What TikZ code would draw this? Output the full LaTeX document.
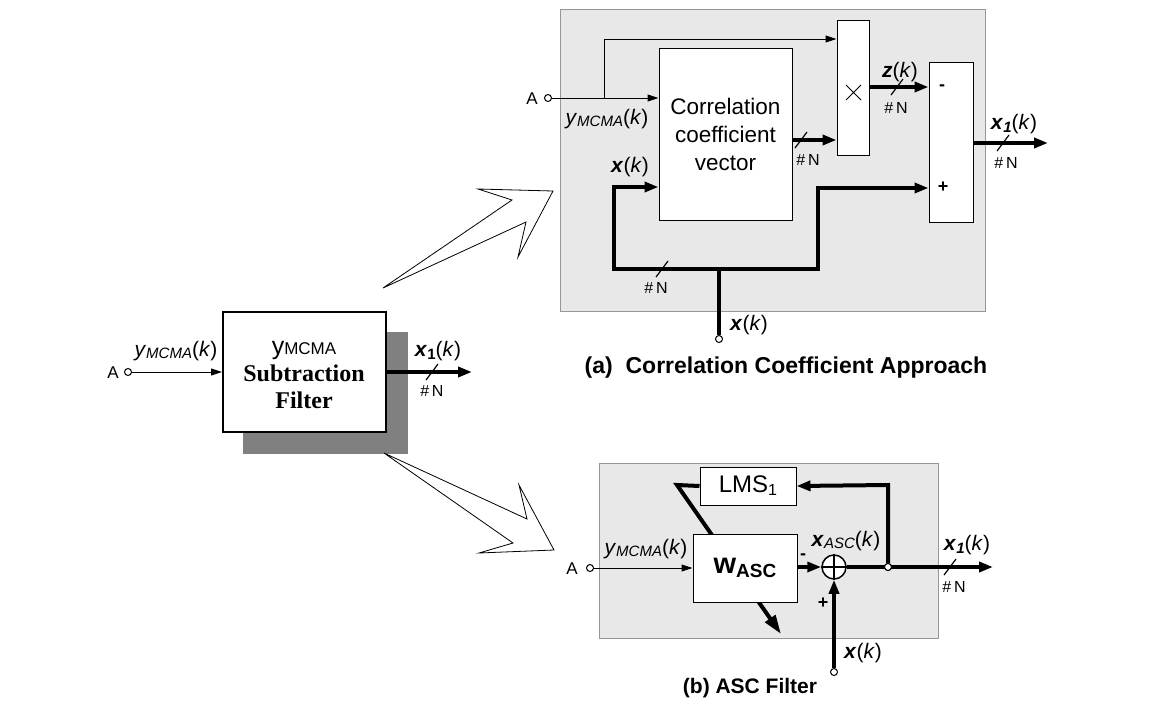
\documentclass[tikz,border=0pt]{standalone}
\usepackage{fontspec}
\setmainfont{Liberation Sans}
\newfontfamily\serifbf{Liberation Serif}
\usetikzlibrary{arrows.meta}
\definecolor{panelfill}{RGB}{232,232,232}
\definecolor{paneldraw}{RGB}{150,150,150}
\definecolor{shadowc}{RGB}{128,128,128}
\newcommand\ymc{\textit{y}\raisebox{-2pt}{\fontsize{15}{15}\selectfont\textit{MCMA}}(\textit{k})}
\newcommand\xk{\textbf{\textit{x}}(\textit{k})}
\newcommand\xone{\textbf{\textit{x}}\raisebox{-3pt}{\fontsize{15}{15}\selectfont\textbf{\textit{1}}}(\textit{k})}
\newcommand\xoneup{\textbf{\textit{x}}\raisebox{-3pt}{\fontsize{15}{15}\selectfont\textbf{1}}(\textit{k})}
\tikzset{
  thinarr/.style={line width=1pt,-{Triangle[length=11pt,width=7pt]}},
  thk/.style={line width=4pt},
  thkarr/.style={line width=4pt,-{Triangle[length=14pt,width=10pt]}},
  blk/.style={draw, line width=1pt, fill=white, inner sep=0pt},
  panel/.style={draw=paneldraw, line width=1pt, fill=panelfill, inner sep=0pt},
  port/.style={circle, draw, line width=1pt, fill=white, inner sep=0pt, minimum size=7pt},
  lab/.style={font=\fontsize{21}{25}\selectfont, inner sep=0pt},
  nlab/.style={font=\fontsize{16}{18}\selectfont, inner sep=0pt},
  alab/.style={font=\fontsize{17}{19}\selectfont, inner sep=0pt},
  captxt/.style={font=\fontsize{21}{25}\selectfont\bfseries, inner sep=0pt},
  slashln/.style={line width=1.2pt},
  hollow/.style={draw, line width=0.8pt, fill=white},
}
\begin{document}
\begin{tikzpicture}[x=1pt,y=-1pt]
\useasboundingbox (0,0) rectangle (1151,707);

% ---------- left block ----------
\fill[shadowc] (243,332) rectangle (408,454);
\node[blk, line width=2pt, minimum width=163pt, minimum height=120pt, align=center] (sf) at (304.5,372) {};
\node[inner sep=0pt] at (304,350) {\fontsize{25}{25}\selectfont y\fontsize{17}{17}\selectfont MCMA};
\node[inner sep=0pt] at (304,373) {\serifbf\bfseries\fontsize{24}{24}\selectfont Subtraction};
\node[inner sep=0pt] at (304,400) {\serifbf\bfseries\fontsize{24}{24}\selectfont Filter};
\node[port] (a1) at (128,372) {};
\node[alab, anchor=east] (a1l) at (119,373) {A};
\draw[thinarr] (a1) -- (sf.west);
\node[lab] (a1y) at (176,351) {\ymc};
\coordinate (o1) at (472,372);
\draw[thkarr] (sf.east) -- (o1);
\draw[slashln] (426,380) -- (438,364);
\node[lab] (o1l) at (438,351) {\xoneup};
\node[nlab] (o1n) at (432,391) {\#\,N};

% ---------- hollow arrows ----------
\draw[hollow] (383,288) -- (512,200) -- (478,189) -- (553,191) -- (518,257) -- (526,222) -- cycle;
\draw[hollow] (384,453) -- (527,519) -- (519,485) -- (554,550) -- (479,553) -- (513,543) -- cycle;

% ---------- panel (a) ----------
\node[panel, minimum width=425pt, minimum height=302pt] (pa) at (772.5,160) {};
\node[blk, minimum width=133pt, minimum height=172pt, align=center, font=\fontsize{22.5}{28}\selectfont] (corr) at (725.5,134) {Correlation\\coefficient\\vector};
\node[blk, minimum width=32pt, minimum height=135pt] (mult) at (853,87.5) {};
\draw[line width=0.8pt] (846,85) -- (861,100) (846,100) -- (861,85);
\node[blk, minimum width=44pt, minimum height=160pt] (sub) at (951,142) {};
\node[port] (pa1) at (548,98) {};
\node[alab, anchor=east] (pa1l) at (538,99) {A};
\draw[thinarr] (pa1) -- (corr.west |- pa1);
\coordinate (br) at (604,98);
\draw[thinarr] (br) -- (604,39) -- (mult.west |- 0,39);
\node[lab] (pay) at (607,119) {\ymc};
\draw[thkarr] (corr.east |- 0,140) -- (mult.west |- 0,140);
\draw[slashln] (795,148) -- (807,132);
\node[nlab] (n1) at (808,160) {\#\,N};
\draw[thkarr] (mult.east |- 0,87) -- (sub.west |- 0,87);
\draw[slashln] (891,95) -- (903,79);
\node[lab] (zk) at (900,72) {\textbf{\textit{z}}(\textit{k})};
\node[nlab] (n2) at (896,108) {\#\,N};
\node[font=\fontsize{18}{18}\selectfont\bfseries, inner sep=0pt] (mn) at (942,88) {-};
\node[font=\fontsize{18}{18}\selectfont\bfseries, inner sep=0pt] (pl) at (943,187) {+};
\coordinate (oa) at (1048,143);
\draw[thkarr] (sub.east |- oa) -- (oa);
\draw[slashln] (997,151) -- (1009,135);
\node[lab] (oal) at (1014,124) {\xone};
\node[nlab] (n3) at (1006,163) {\#\,N};
\node[port] (xa) at (719,339) {};
\coordinate (jx) at (719,269);
\draw[thk] (xa) -- (jx);
\draw[thkarr] (jx) -- (614,269) -- (614,187) -- (corr.west |- 0,187);
\draw[thkarr] (jx) -- (818,269) -- (818,188) -- (sub.west |- 0,188);
\draw[slashln] (656,277) -- (668,261);
\node[nlab] (n4) at (656,288) {\#\,N};
\node[lab] (xal) at (630,167) {\xk};
\node[lab] (xbl) at (749,325) {\xk};
\node[captxt, font=\fontsize{23}{27}\selectfont\bfseries] (capa) at (786,368) {(a)\ \ Correlation Coefficient Approach};

% ---------- panel (b) ----------
\node[panel, minimum width=339pt, minimum height=175pt] (pb) at (768.5,550.5) {};
\node[blk, minimum width=96pt, minimum height=38pt, font=\fontsize{24}{24}\selectfont] (lms) at (748,486) {LMS\raisebox{-3pt}{\fontsize{16}{16}\selectfont 1}};
\coordinate (lk) at (677,485);
\coordinate (adp) at (781,634);
\draw[line width=4pt,-{Triangle[length=19pt,width=12pt]}] (lms.west) -- (lk) -- (adp);
\node[blk, minimum width=104pt, minimum height=68pt] (w) at (745,568) {\bfseries\fontsize{29}{29}\selectfont w\raisebox{-4pt}{\fontsize{19}{19}\selectfont ASC}};
\node[port] (pb1) at (590,568) {};
\node[alab, anchor=east] (pb1l) at (578,569) {A};
\draw[thinarr] (pb1) -- (w.west |- pb1);
\node[lab] (pby) at (646,549) {\ymc};
\node[circle, draw, line width=1.5pt, fill=white, minimum size=24pt, inner sep=0pt] (sum) at (834,567) {};
\draw[line width=1.2pt] (sum.north) -- (sum.south) (sum.west) -- (sum.east);
\draw[thkarr] (w.east |- sum) -- (sum.west);
\node[font=\fontsize{18}{18}\selectfont\bfseries, inner sep=0pt] (mn2) at (803,557) {-};
\coordinate (ob) at (993,567);
\node[port] (jd) at (888,567) {};
\draw[thkarr] (sum.east) -- (ob);
\node[port] at (888,567) {};
\draw[thkarr] (jd.north) -- (888,485) -- (lms.east);
\draw[slashln] (944,575) -- (956,559);
\node[lab] (obl) at (967,545) {\xone};
\node[nlab] (n5) at (954,587) {\#\,N};
\node[lab] (xasc) at (846,541) {\textbf{\textit{x}}\raisebox{-2pt}{\fontsize{15}{15}\selectfont\textit{ASC}}(\textit{k})};
\node[port] (xb) at (834,672) {};
\draw[thkarr] (xb) -- (sum.south);
\node[font=\fontsize{18}{18}\selectfont\bfseries, inner sep=0pt] (pl2) at (823,603) {+};
\node[lab] (xbk) at (863,653) {\xk};
\node[captxt] (capb) at (750,688) {(b) ASC Filter};
\end{tikzpicture}
\end{document}
